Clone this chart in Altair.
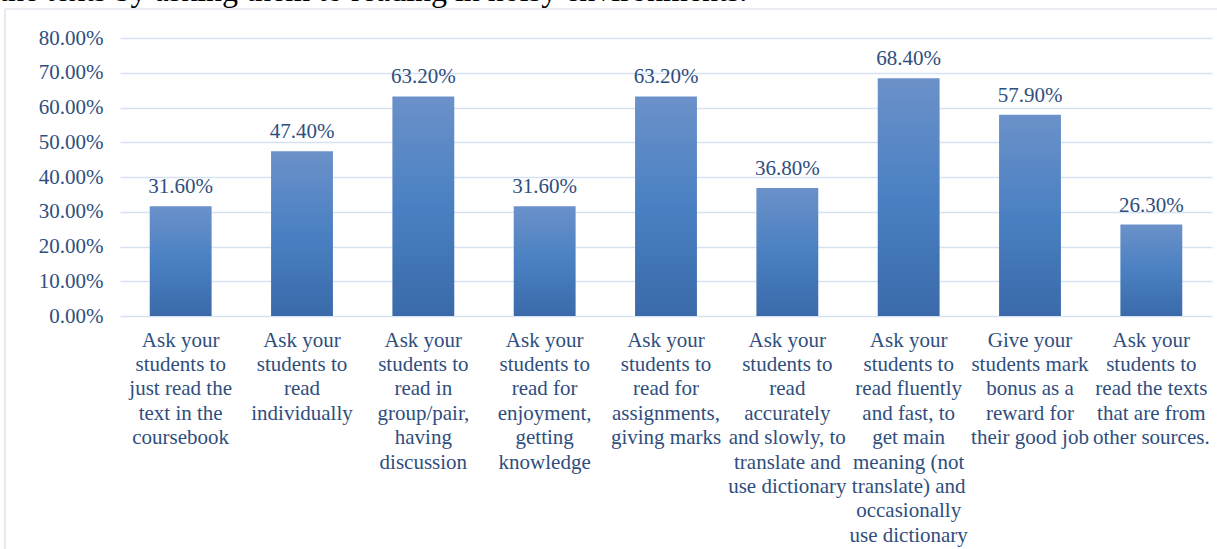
import altair as alt
import pandas as pd

categories = [
    "Ask your|students to|just read the|text in the|coursebook",
    "Ask your|students to|read|individually",
    "Ask your|students to|read in|group/pair,|having|discussion",
    "Ask your|students to|read for|enjoyment,|getting|knowledge",
    "Ask your|students to|read for|assignments,|giving marks",
    "Ask your|students to|read|accurately|and slowly, to|translate and|use dictionary",
    "Ask your|students to|read fluently|and fast, to|get main|meaning (not|translate) and|occasionally|use dictionary",
    "Give your|students mark|bonus as a|reward for|their good job",
    "Ask your|students to|read the texts|that are from|other sources.",
]
values = [0.316, 0.474, 0.632, 0.316, 0.632, 0.368, 0.684, 0.579, 0.263]
value_labels = ["31.60%", "47.40%", "63.20%", "31.60%", "63.20%", "36.80%", "68.40%", "57.90%", "26.30%"]
y_ticks = [0.0, 0.1, 0.2, 0.3, 0.4, 0.5, 0.6, 0.7, 0.8]
header_text = ["the texts by asking them to reading in noisy environments."]

df = pd.DataFrame({"cat": categories, "val": values, "lab": value_labels})

TXT = "#2f4e7e"
FONT = "Liberation Serif"
FS = 21

x_axis = alt.Axis(labelExpr="split(datum.label, '|')", labelAngle=0,
                  labelFont=FONT, labelFontSize=FS, labelColor=TXT,
                  labelLineHeight=24.4, labelLimit=0, labelOverlap=False,
                  ticks=False, domain=False, labelPadding=13, grid=False)
y_axis = alt.Axis(format=".2%", values=y_ticks, labelOverlap=False,
                  labelFont=FONT, labelFontSize=FS, labelColor=TXT,
                  labelPadding=17, ticks=False, domain=False,
                  grid=True, gridColor="#d6e2f2", gridWidth=1.5)
x_scale = alt.Scale(paddingInner=0.49, paddingOuter=0.245)
y_scale = alt.Scale(domain=[0, 0.8], nice=False)

x = alt.X("cat:N", sort=None, title=None, scale=x_scale, axis=x_axis)
y = alt.Y("val:Q", title=None, scale=y_scale, axis=y_axis)

base = alt.Chart(df).encode(x=x, y=y)

bars = base.mark_bar(
    color=alt.LinearGradient(
        gradient="linear", x1=0, x2=0, y1=0, y2=1,
        stops=[alt.GradientStop(color="#6b91c9", offset=0),
               alt.GradientStop(color="#4a80c2", offset=0.5),
               alt.GradientStop(color="#3a6aaa", offset=1)])
)

texts = base.mark_text(
    font=FONT, fontSize=FS, color=TXT, baseline="alphabetic", dy=-13
).encode(text="lab:N")

hdr = alt.Chart(pd.DataFrame({"t": header_text})).mark_text(
    font=FONT, fontSize=32, color="#000000", align="left", baseline="alphabetic"
).encode(x=alt.value(-121), y=alt.value(-37), text="t:N")

border = alt.Chart(pd.DataFrame({"a": [0]})).mark_rule(color="#d4dce8", strokeWidth=1.2).encode(
    x=alt.value(-115), x2=alt.value(1110), y=alt.value(-29))
border2 = alt.Chart(pd.DataFrame({"a": [0]})).mark_rule(color="#d4dce8", strokeWidth=1.2).encode(
    x=alt.value(-115), y=alt.value(-29), y2=alt.value(520))

chart = alt.layer(border, border2, bars, texts, hdr).properties(
    width=1092, height=278,
    padding={"left": 120, "top": 38, "right": 5, "bottom": 233},
    autosize=alt.AutoSizeParams(type="none"),
).configure(background="white").configure_view(stroke="transparent", strokeWidth=0)

chart.save("out.html", embed_options={"renderer": "svg", "actions": False})
